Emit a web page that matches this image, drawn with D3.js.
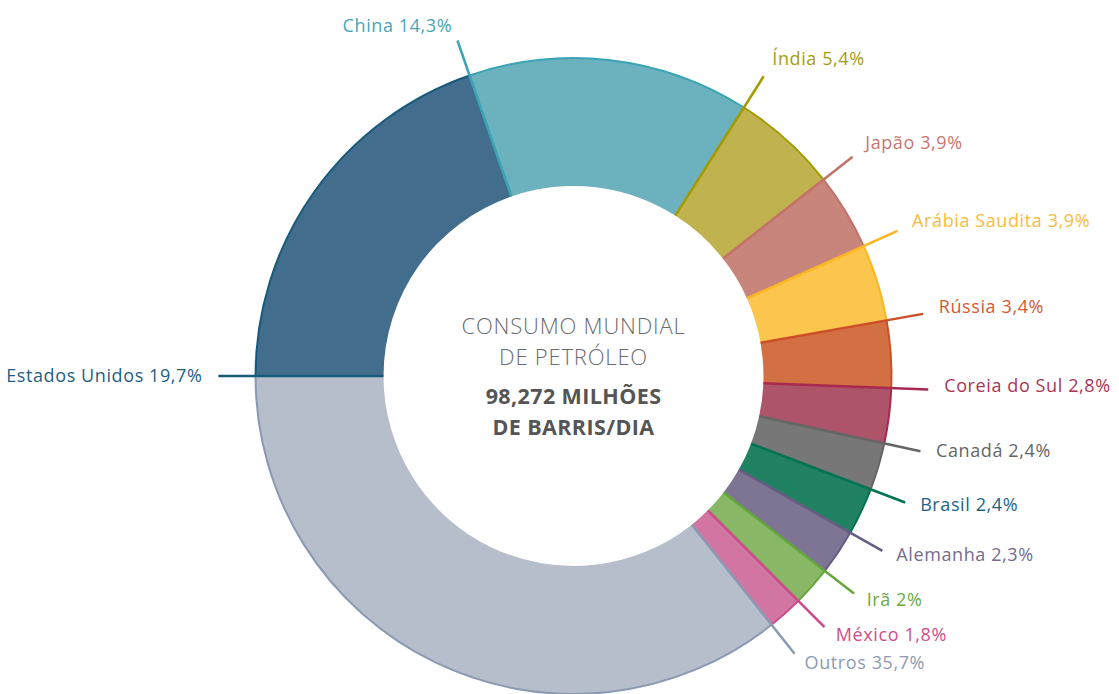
<!DOCTYPE html>
<html>
<head>
<meta charset="utf-8">
<script src="https://cdn.jsdelivr.net/npm/d3@7"></script>
<style>
  body { margin: 0; background: #fff; }
  svg { display: block; font-family: "Open Sans", sans-serif; }
</style>
</head>
<body>
<div id="chart"></div>
<script>
const countries = ["Estados Unidos", "China", "Índia", "Japão", "Arábia Saudita", "Rússia",
  "Coreia do Sul", "Canadá", "Brasil", "Alemanha", "Irã", "México", "Outros"];
const shares = [19.7, 14.3, 5.4, 3.9, 3.9, 3.4, 2.8, 2.4, 2.4, 2.3, 2, 1.8, 35.7];
const shareLabels = ["19,7%", "14,3%", "5,4%", "3,9%", "3,9%", "3,4%", "2,8%", "2,4%", "2,4%", "2,3%", "2%", "1,8%", "35,7%"];
const fillColors = ["#436d8d", "#6cb1be", "#bfb24f", "#c8857b", "#fcc54e", "#d37043",
  "#ae546a", "#777777", "#208263", "#7e7594", "#88b766", "#d175a3", "#b6bdcb"];
const lineColors = ["#175a7c", "#3ba4b4", "#a39a00", "#c4716a", "#fbb621", "#cd4f27",
  "#a8294f", "#666666", "#007352", "#675c84", "#63a63a", "#cc4a8a", "#8a9ab2"];
const textColors = ["#1f5f82", "#45a7b6", "#a59c10", "#c9776f", "#f9bc3a", "#d25a35",
  "#a83555", "#666666", "#1e6488", "#756b8e", "#6aab3f", "#d04e8c", "#8e9bb2"];
const titleLines = ["CONSUMO MUNDIAL", "DE PETRÓLEO"];
const totalLines = ["98,272 MILHÕES", "DE BARRIS/DIA"];

const width = 1119, height = 694;
const cx = 573.5, cy = 376;
const outerR = 318, innerR = 190, lineR = 355, labelR = 371;

const svg = d3.select("#chart").append("svg")
    .attr("width", width)
    .attr("height", height);

const g = svg.append("g").attr("transform", "translate(" + cx + "," + cy + ")");

const pie = d3.pie()
    .sort(null)
    .value(d => d.value)
    .startAngle(-Math.PI / 2)
    .endAngle(Math.PI * 1.5);

const data = countries.map((c, i) => ({name: c, value: shares[i], label: shareLabels[i], i: i}));
const arcs = pie(data);

const arc = d3.arc().innerRadius(innerR).outerRadius(outerR);

// slices
g.selectAll(".slice")
    .data(arcs)
  .enter().append("path")
    .attr("class", "slice")
    .attr("d", arc)
    .style("fill", d => fillColors[d.data.i]);

// outer edge stroke
g.selectAll(".edge")
    .data(arcs)
  .enter().append("path")
    .attr("class", "edge")
    .attr("d", d => {
        let p = d3.path();
        p.arc(0, 0, outerR, d.startAngle - Math.PI / 2, d.endAngle - Math.PI / 2);
        return p.toString();
    })
    .style("fill", "none")
    .style("stroke", d => lineColors[d.data.i])
    .style("stroke-width", "2px");

// leader lines along the start edge of each slice
let polar = (r, a) => [r * Math.sin(a), -r * Math.cos(a)];
let rightSide = d => Math.sin(d.startAngle) >= 0;

g.selectAll(".leader")
    .data(arcs)
  .enter().append("line")
    .attr("class", "leader")
    .attr("x1", d => polar(innerR, d.startAngle)[0])
    .attr("y1", d => polar(innerR, d.startAngle)[1])
    .attr("x2", d => polar(lineR, d.startAngle)[0])
    .attr("y2", d => polar(lineR, d.startAngle)[1])
    .style("stroke", d => lineColors[d.data.i])
    .style("stroke-width", "2.5px");

g.selectAll(".label")
    .data(arcs)
  .enter().append("text")
    .attr("class", "label")
    .attr("x", d => polar(labelR, d.startAngle)[0])
    .attr("y", d => polar(labelR, d.startAngle)[1] - (rightSide(d) ? 4 : 0))
    .attr("dy", "0.35em")
    .attr("text-anchor", d => rightSide(d) ? "start" : "end")
    .style("font-size", "18px")
    .style("letter-spacing", "0.6px")
    .style("fill", d => textColors[d.data.i])
    .text(d => d.data.name + " " + d.data.label);

// centre text
g.selectAll(".title")
    .data(titleLines)
  .enter().append("text")
    .attr("class", "title")
    .attr("x", 0)
    .attr("y", (d, i) => -50 + i * 31)
    .attr("dy", "0.35em")
    .attr("text-anchor", "middle")
    .style("font-size", "22px")
    .style("font-weight", 300)
    .style("letter-spacing", "0.8px")
    .style("fill", "#6b6b6b")
    .text(d => d);

g.selectAll(".total")
    .data(totalLines)
  .enter().append("text")
    .attr("class", "total")
    .attr("x", 0)
    .attr("y", (d, i) => 20 + i * 31)
    .attr("dy", "0.35em")
    .attr("text-anchor", "middle")
    .style("font-size", "21.5px")
    .style("font-weight", "bold")
    .style("letter-spacing", "0.4px")
    .style("fill", "#555555")
    .text(d => d);
</script>
</body>
</html>
